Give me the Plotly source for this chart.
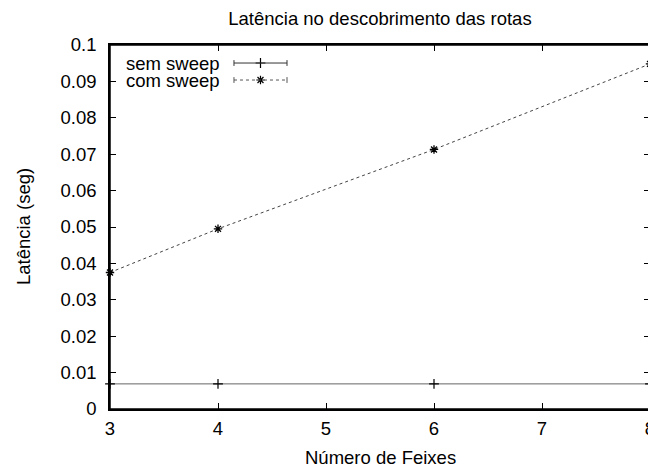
import plotly.graph_objects as go

x_feixes = [3, 4, 6, 8]
sem_sweep = [0.0069, 0.0069, 0.0069, 0.0069]
com_sweep = [0.0375, 0.0495, 0.0713, 0.0948]
x_ticks = [3, 4, 5, 6, 7, 8]
y_ticks = [0, 0.01, 0.02, 0.03, 0.04, 0.05, 0.06, 0.07, 0.08, 0.09, 0.1]
y_tick_text = ["0", "0.01", "0.02", "0.03", "0.04", "0.05", "0.06", "0.07", "0.08", "0.09", "0.1"]
series_names = ["sem sweep", "com sweep"]

FONT = "Liberation Sans, Arial, sans-serif"
FS = 18.5

fig = go.Figure()
fig.add_trace(go.Scatter(
    x=x_feixes, y=sem_sweep, mode="lines+markers", name=series_names[0],
    line=dict(color="#666666", width=1),
    marker=dict(symbol="cross-thin", size=7, color="black", line=dict(color="black", width=1.2)),
    showlegend=False, cliponaxis=False))
fig.add_trace(go.Scatter(
    x=x_feixes, y=com_sweep, mode="lines+markers", name=series_names[1],
    line=dict(color="#444444", width=1, dash="dot"),
    marker=dict(symbol="asterisk-open", size=7, color="black", line=dict(color="black", width=1.3)),
    showlegend=False, cliponaxis=False))

# manual gnuplot-style key (text left, sample right); key samples live in a small separate subplot
key_rows = [(0.9505, "solid", "cross-thin", "#333333"), (0.9038, "dot", "asterisk-open", "#555555")]
for (yk, dash, sym, col), name in zip(key_rows, series_names):
    fig.add_annotation(xref="paper", yref="paper", x=0.2074, y=yk, text=name,
                       showarrow=False, xanchor="right", yanchor="middle",
                       font=dict(family=FONT, size=FS, color="black"))
    fig.add_shape(type="line", xref="paper", yref="paper", x0=0.2296, x1=0.3278, y0=yk, y1=yk,
                  line=dict(color=col, width=1, dash=dash))
    for xe in (0.2296, 0.3278):
        fig.add_shape(type="line", xref="paper", yref="paper", x0=xe, x1=xe, y0=yk - 0.008, y1=yk + 0.008,
                      line=dict(color=col, width=1))
    fig.add_trace(go.Scatter(x=[0.5], y=[yk], xaxis="x2", yaxis="y2", mode="markers",
                             marker=dict(symbol=sym, size=7, color="black", line=dict(color="black", width=1.2)),
                             showlegend=False, hoverinfo="skip", cliponaxis=False))

# axis titles and frame
fig.add_annotation(xref="paper", yref="paper", x=-0.161, y=0.5, text="Latência (seg)", textangle=-90,
                   showarrow=False, xanchor="center", yanchor="middle",
                   font=dict(family=FONT, size=FS, color="black"))
fig.add_annotation(xref="paper", yref="paper", x=0.5, y=-0.132, text="Número de Feixes",
                   showarrow=False, xanchor="center", yanchor="middle",
                   font=dict(family=FONT, size=FS, color="black"))
fig.add_shape(type="rect", xref="paper", yref="paper", x0=0, x1=1, y0=0, y1=1,
              line=dict(color="black", width=1.5), layer="above")

axis_common = dict(ticks="inside", ticklen=6, tickcolor="black", tickwidth=1,
                   showline=True, linecolor="black", linewidth=1.5, mirror="allticks",
                   showgrid=False, zeroline=False, automargin=False,
                   tickfont=dict(family=FONT, size=FS, color="black"))

# page body has an 8px margin, so the figure is sized to fill the rest of the window
fig.update_layout(
    width=648, height=460,
    margin=dict(l=102, r=6, t=37, b=59),
    paper_bgcolor="white", plot_bgcolor="white",
    font=dict(family=FONT, size=FS, color="black"),
    title=dict(text="Latência no descobrimento das rotas", x=0.574, xanchor="center",
               xref="container", yref="container",
               y=0.978, yanchor="middle", font=dict(family=FONT, size=FS)),
    xaxis=dict(range=[3, 8], tickvals=x_ticks, ticktext=[str(v) for v in x_ticks],
               ticklabelstandoff=2, domain=[0, 1], **axis_common),
    yaxis=dict(range=[0, 0.1], tickvals=y_ticks, ticktext=y_tick_text,
               ticklabelstandoff=8, domain=[0, 1], **axis_common),
    xaxis2=dict(domain=[0.2296, 0.3278], range=[0, 1], visible=False, anchor="y2", fixedrange=True),
    yaxis2=dict(domain=[0.88, 0.97], range=[0.88, 0.97], visible=False, anchor="x2", fixedrange=True),
)

fig.write_html("out.html")
